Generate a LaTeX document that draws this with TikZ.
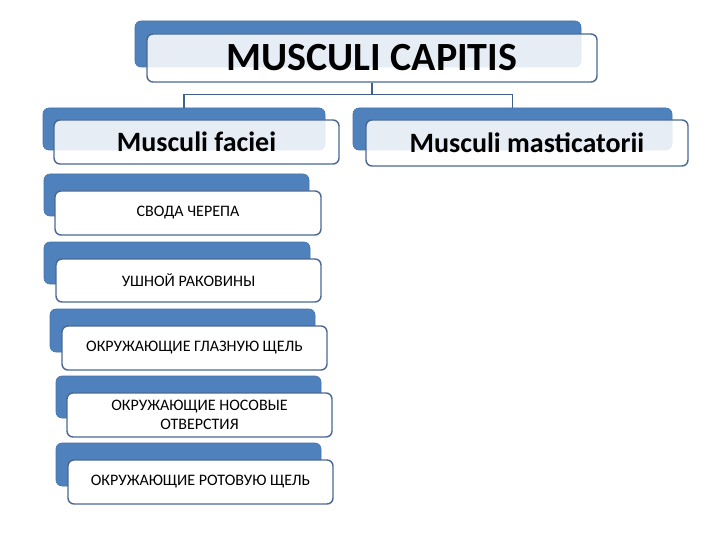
\documentclass[tikz,border=0pt]{standalone}
\usepackage{fontspec}
\setmainfont{Carlito}
\definecolor{backblue}{HTML}{4F81BD}
\definecolor{edgeblue}{HTML}{4A6894}
\definecolor{lineblue}{HTML}{41608E}
\begin{document}
\begin{tikzpicture}[x=1pt,y=-1pt,
  back/.style={draw=backblue!90!black, line width=0.6pt, fill=backblue, rounded corners=6pt, inner sep=0pt},
  front/.style={draw=edgeblue, line width=1.4pt, fill=white, fill opacity=0.86, text opacity=1, rounded corners=6pt, inner sep=0pt, align=center},
  head/.style={font=\bfseries\fontsize{28}{32}\selectfont},
  item/.style={font=\fontsize{16}{19}\selectfont, fill opacity=1},
  conn/.style={draw=lineblue, line width=1.1pt}]
\useasboundingbox (0,0) rectangle (720,540);
\fill[white] (0,0) rectangle (720,540);
% top
\node[back, minimum width=446, minimum height=46] (topb) at (358,44) {};
\node[front, minimum width=450, minimum height=48, font=\bfseries\fontsize{40}{44}\selectfont] (top) at (372,58) {MUSCULI CAPITIS};
% level 2
\node[back, minimum width=282, minimum height=42] (facb) at (184,129) {};
\node[front, head, minimum width=285, minimum height=44] (fac) at (196.5,142) {Musculi faciei};
\node[back, minimum width=319, minimum height=42] (masb) at (512.5,129) {};
\node[front, head, minimum width=322, minimum height=46] (mas) at (527,143) {Musculi masticatorii};
% connectors
\draw[conn] (top.south) -- ++(0,12) coordinate (mid) -| (facb.north);
\draw[conn] (mid) -| (masb.north);
% items
\node[back, minimum width=265, minimum height=42] (i1b) at (176.5,195) {};
\node[front, item, minimum width=266, minimum height=44] (i1) at (188,213) {СВОДА ЧЕРЕПА};
\node[back, minimum width=266, minimum height=42] (i2b) at (177,263) {};
\node[front, item, minimum width=265, minimum height=43] (i2) at (188.5,280.5) {УШНОЙ РАКОВИНЫ};
\node[back, minimum width=265, minimum height=43] (i3b) at (182.5,330.5) {};
\node[front, item, minimum width=265, minimum height=44] (i3) at (194.5,348) {ОКРУЖАЮЩИЕ ГЛАЗНУЮ ЩЕЛЬ};
\node[back, minimum width=265, minimum height=42] (i4b) at (188.5,397) {};
\node[front, item, minimum width=265, minimum height=44] (i4) at (199.5,415) {ОКРУЖАЮЩИЕ НОСОВЫЕ\\ОТВЕРСТИЯ};
\node[back, minimum width=265, minimum height=43] (i5b) at (188.5,464.5) {};
\node[front, item, minimum width=265, minimum height=44] (i5) at (200.5,482) {ОКРУЖАЮЩИЕ РОТОВУЮ ЩЕЛЬ};
\end{tikzpicture}
\end{document}
